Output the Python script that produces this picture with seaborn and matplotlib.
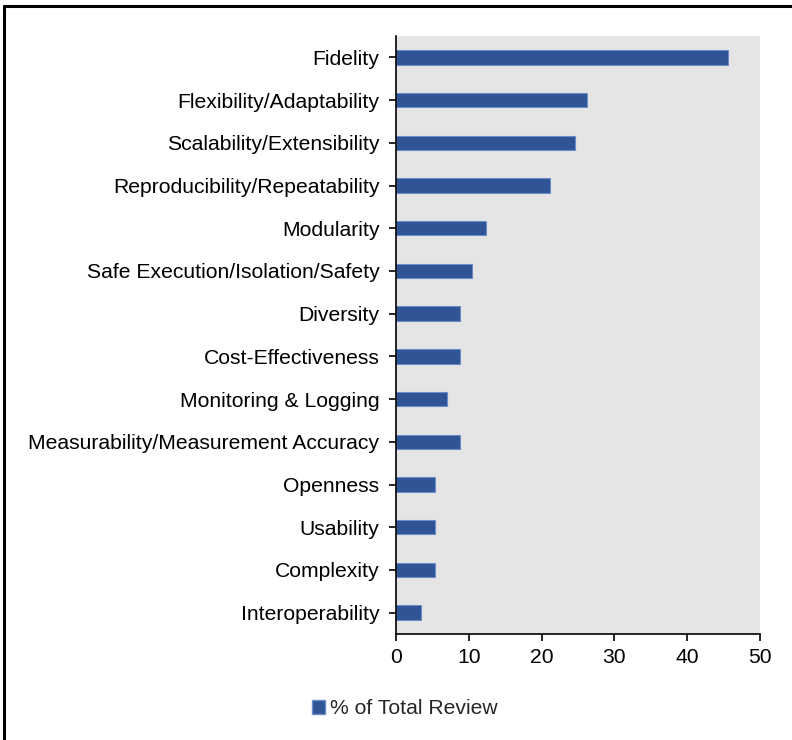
import matplotlib
matplotlib.use("Agg")
import matplotlib.pyplot as plt
import matplotlib.patches as mpatches
from matplotlib.lines import Line2D
import seaborn as sns
import pandas as pd

# data (% of total review)
categories = [
    "Fidelity",
    "Flexibility/Adaptability",
    "Scalability/Extensibility",
    "Reproducibility/Repeatability",
    "Modularity",
    "Safe Execution/Isolation/Safety",
    "Diversity",
    "Cost-Effectiveness",
    "Monitoring & Logging",
    "Measurability/Measurement Accuracy",
    "Openness",
    "Usability",
    "Complexity",
    "Interoperability",
]
pct_total = [45.6, 26.3, 24.6, 21.1, 12.3, 10.5, 8.8, 8.8, 7.0, 8.8, 5.3, 5.3, 5.3, 3.5]
xticks = [0, 10, 20, 30, 40, 50]
series_name = "% of Total Review"

bar_color = "#2F5597"

sns.set_style("white")
plt.rcParams["font.family"] = ["Liberation Sans", "DejaVu Sans"]

df = pd.DataFrame({"category": categories, "pct": pct_total})

fig = plt.figure(figsize=(7.92, 7.40), dpi=100)
ax = fig.add_axes([396 / 792, 1 - 634 / 740, (760 - 396) / 792, (634 - 36) / 740])

sns.barplot(data=df, x="pct", y="category", orient="h", color=bar_color,
            width=0.34, saturation=1, edgecolor="#6C8CC6", linewidth=0.8, ax=ax)

ax.set_facecolor("#E5E5E5")
ax.set_xlim(0, 50)
ax.set_ylim(len(categories) - 0.5, -0.5)
ax.set_xticks(xticks)
ax.set_xlabel("")
ax.set_ylabel("")
for s in ["top", "right"]:
    ax.spines[s].set_visible(False)
for s in ["left", "bottom"]:
    ax.spines[s].set_color("black")
    ax.spines[s].set_linewidth(1.2)
ax.tick_params(axis="both", direction="out", length=5, width=1.2, color="black",
               labelsize=15.2, labelcolor="black", left=True, bottom=True)
ax.tick_params(axis="y", pad=7)
ax.tick_params(axis="x", pad=5)

# legend below the plot
handle = mpatches.Patch(facecolor=bar_color, edgecolor="#6C8CC6", label=series_name)
fig.legend(handles=[handle], loc="center", bbox_to_anchor=(405 / 792, 1 - 709 / 740),
           frameon=False, fontsize=15.2, handlelength=0.6, handleheight=0.6,
           handletextpad=0.25)

# outer frame (top and left visible)
fig.add_artist(Line2D([4 / 792, 4 / 792], [0, 1 - 6 / 740], color="black", lw=2.2,
                      transform=fig.transFigure))
fig.add_artist(Line2D([4 / 792, 1], [1 - 6 / 740, 1 - 6 / 740], color="black", lw=2.2,
                      transform=fig.transFigure))

fig.savefig("out.png", dpi=100)
